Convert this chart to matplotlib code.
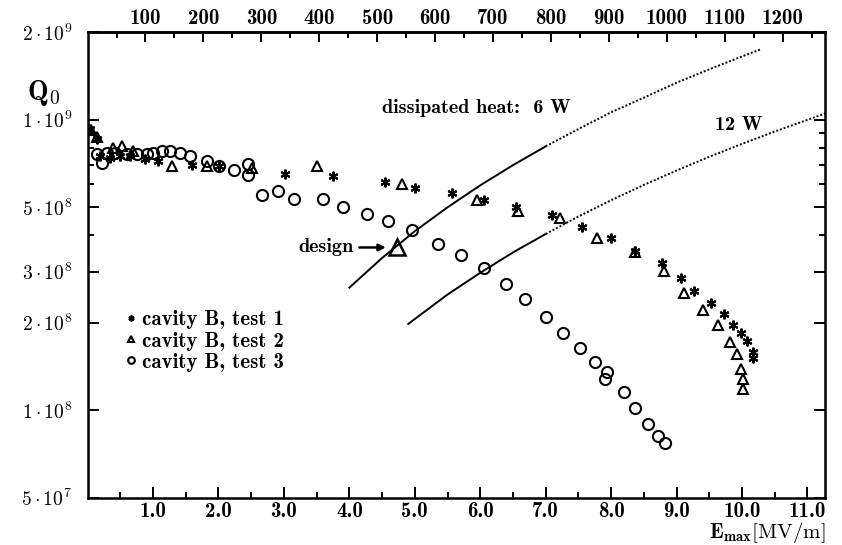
import numpy as np
import matplotlib
matplotlib.use('Agg')
import matplotlib.pyplot as plt
from matplotlib.ticker import FixedLocator, NullFormatter

plt.rcParams['mathtext.fontset'] = 'cm'
plt.rcParams['font.family'] = ['cmb10', 'DejaVu Serif']
plt.rcParams['axes.unicode_minus'] = False

# cavity B, test 1 (asterisks)
e_test1 = [0.04, 0.15, 0.19, 0.34, 0.50, 0.65, 0.88, 1.08, 1.60, 2.01, 3.02, 3.75, 4.55,
           5.01, 5.57, 6.05, 6.55, 7.10, 7.56, 8.00, 8.36, 8.78, 9.07, 9.27, 9.53, 9.73,
           9.86, 9.98, 10.07, 10.17, 10.17]
q_test1 = [9.3e8, 8.6e8, 7.5e8, 7.4e8, 7.5e8, 7.5e8, 7.3e8, 7.2e8, 7.0e8, 6.9e8, 6.5e8,
           6.4e8, 6.1e8, 5.8e8, 5.6e8, 5.3e8, 5.0e8, 4.7e8, 4.26e8, 3.9e8, 3.52e8, 3.22e8,
           2.84e8, 2.57e8, 2.33e8, 2.15e8, 1.96e8, 1.84e8, 1.73e8, 1.58e8, 1.51e8]

# cavity B, test 2 (triangles)
e_test2 = [0.05, 0.15, 0.39, 0.53, 0.70, 1.29, 1.83, 2.52, 3.51, 4.81, 5.95, 6.57, 7.22,
           7.78, 8.36, 8.80, 9.11, 9.41, 9.64, 9.81, 9.93, 9.99, 10.01, 10.02]
q_test2 = [9.2e8, 8.7e8, 8.0e8, 8.1e8, 7.8e8, 6.95e8, 6.9e8, 6.8e8, 6.9e8, 6.0e8, 5.3e8,
           4.83e8, 4.57e8, 3.9e8, 3.49e8, 3.01e8, 2.54e8, 2.21e8, 1.96e8, 1.71e8, 1.56e8,
           1.39e8, 1.28e8, 1.18e8]

# cavity B, test 3 (circles)
e_test3 = [0.15, 0.22, 0.30, 0.42, 0.60, 0.76, 0.91, 1.00, 1.14, 1.26, 1.41, 1.57, 1.83,
           2.01, 2.24, 2.45, 2.45, 2.67, 2.91, 3.16, 3.60, 3.91, 4.27, 4.59, 4.95, 5.36,
           5.70, 6.05, 6.40, 6.69, 7.01, 7.26, 7.52, 7.76, 7.93, 7.90, 8.19, 8.37, 8.57,
           8.72, 8.82]
q_test3 = [7.6e8, 7.1e8, 7.7e8, 7.7e8, 7.6e8, 7.6e8, 7.6e8, 7.7e8, 7.8e8, 7.8e8, 7.7e8,
           7.5e8, 7.2e8, 6.95e8, 6.7e8, 7.06e8, 6.47e8, 5.48e8, 5.7e8, 5.35e8, 5.35e8,
           5.0e8, 4.75e8, 4.46e8, 4.16e8, 3.72e8, 3.41e8, 3.08e8, 2.71e8, 2.41e8, 2.09e8,
           1.85e8, 1.63e8, 1.46e8, 1.35e8, 1.28e8, 1.15e8, 1.02e8, 8.96e7, 8.15e7, 7.71e7]

design_e = 4.73
design_q = 3.63e8

# constant dissipated heat lines
e_6w = [4.0, 4.5, 5.0, 5.5, 6.0, 6.5, 7.0, 7.5, 8.0, 8.5, 9.0, 9.5, 10.0, 10.3]
q_6w = [2.64e8, 3.34e8, 4.13e8, 4.99e8, 5.94e8, 6.97e8, 8.09e8, 9.28e8, 1.06e9, 1.19e9,
        1.34e9, 1.49e9, 1.65e9, 1.75e9]
e_12w = [4.9, 5.5, 6.0, 6.5, 7.0, 7.5, 8.0, 8.5, 9.0, 9.5, 10.0, 10.5, 11.0, 11.27]
q_12w = [1.98e8, 2.50e8, 2.97e8, 3.49e8, 4.04e8, 4.64e8, 5.28e8, 5.96e8, 6.68e8, 7.45e8,
         8.25e8, 9.10e8, 9.98e8, 1.05e9]
solid_6w = 7  # points drawn solid, rest dotted
solid_12w = 5

y_major = [5e7, 1e8, 2e8, 3e8, 5e8, 1e9, 2e9]
y_labels = [r'$\mathbf{5\cdot10^{7}}$', r'$\mathbf{1\cdot10^{8}}$', r'$\mathbf{2\cdot10^{8}}$',
            r'$\mathbf{3\cdot10^{8}}$', r'$\mathbf{5\cdot10^{8}}$', r'$\mathbf{1\cdot10^{9}}$',
            r'$\mathbf{2\cdot10^{9}}$']
y_minor = [4e8, 6e8, 7e8, 8e8, 9e8]
x_major = [1.0, 2.0, 3.0, 4.0, 5.0, 6.0, 7.0, 8.0, 9.0, 10.0, 11.0]
top_major = [100, 200, 300, 400, 500, 600, 700, 800, 900, 1000, 1100, 1200]
top_factor = 113.0

fig = plt.figure(figsize=(8.42, 5.45), dpi=100)
ax = fig.add_axes([0.104, 0.087, 0.876, 0.854])
ax.set_yscale('log')
ax.set_xlim(0, 11.27)
ax.set_ylim(5e7, 2e9)

ax.plot(e_test1, q_test1, ls='none', marker=(6, 2, 0), ms=7, mew=1.5, color='black',
        label='cavity B, test 1')
ax.plot(e_test2, q_test2, ls='none', marker='^', ms=6.5, mew=1.5, mfc='none', color='black',
        label='cavity B, test 2')
ax.plot(e_test3, q_test3, ls='none', marker='o', ms=8, mew=1.5, mfc='none', color='black',
        label='cavity B, test 3')
ax.plot([design_e], [design_q], ls='none', marker='^', ms=11, mew=1.8, mfc='none', color='black')

ax.plot(e_6w[:solid_6w], q_6w[:solid_6w], color='black', lw=1.4)
ax.plot(e_6w[solid_6w - 1:], q_6w[solid_6w - 1:], color='black', lw=1.4, ls=(0, (1, 1)))
ax.plot(e_12w[:solid_12w], q_12w[:solid_12w], color='black', lw=1.4)
ax.plot(e_12w[solid_12w - 1:], q_12w[solid_12w - 1:], color='black', lw=1.4, ls=(0, (1, 1)))

ax.text(4.5, 1.1e9, 'dissipated heat:  6 W', fontsize=14.5, ha='left', va='center')
ax.text(9.58, 9.6e8, '12 W', fontsize=14.5, ha='left', va='center')
ax.text(design_e - 0.66, design_q, 'design', fontsize=14.5, ha='right', va='center')
ax.annotate('', xy=(design_e - 0.13, design_q), xytext=(design_e - 0.62, design_q),
            arrowprops=dict(arrowstyle='-|>', lw=1.8, color='black', mutation_scale=10))

ax.yaxis.set_major_locator(FixedLocator(y_major))
ax.set_yticklabels(y_labels)
ax.yaxis.set_minor_locator(FixedLocator(y_minor))
ax.yaxis.set_minor_formatter(NullFormatter())
ax.xaxis.set_major_locator(FixedLocator(x_major))
ax.set_xticklabels(['%.1f' % v for v in x_major])
ax.xaxis.set_minor_locator(FixedLocator(np.arange(0.5, 11.3, 1.0)))
ax.tick_params(which='both', direction='in', width=1.4, right=True, top=False)
ax.tick_params(axis='x', labelsize=15)
ax.tick_params(axis='y', labelsize=14)
ax.tick_params(which='major', length=8)
ax.tick_params(axis='x', which='major', pad=3)
ax.tick_params(axis='y', which='major', pad=11)
ax.tick_params(which='minor', length=4)
for s in ax.spines.values():
    s.set_linewidth(1.8)

top = ax.secondary_xaxis('top', functions=(lambda e: e * top_factor, lambda t: t / top_factor))
top.xaxis.set_major_locator(FixedLocator(top_major))
top.xaxis.set_minor_locator(FixedLocator(np.arange(50, 1300, 100)))
top.tick_params(which='both', direction='in', labelsize=15, width=1.4)
top.tick_params(which='major', length=7, pad=3)
top.tick_params(which='minor', length=4)
top.spines['top'].set_linewidth(1.8)

fig.text(0.032, 0.83, r'$\mathbf{Q_0}$', fontsize=20, ha='left', va='center')
fig.text(0.981, 0.0, r'$\mathbf{E_{max}}\mathrm{[MV/m]}$', fontsize=15, ha='right', va='bottom')

ax.legend(loc='upper left', bbox_to_anchor=(0.035, 0.42), frameon=False, fontsize=15,
          handletextpad=0.05, handlelength=0.9, markerscale=0.6, labelspacing=0.1,
          borderaxespad=0.0)

fig.savefig('out.png', dpi=100)
plt.close(fig)
